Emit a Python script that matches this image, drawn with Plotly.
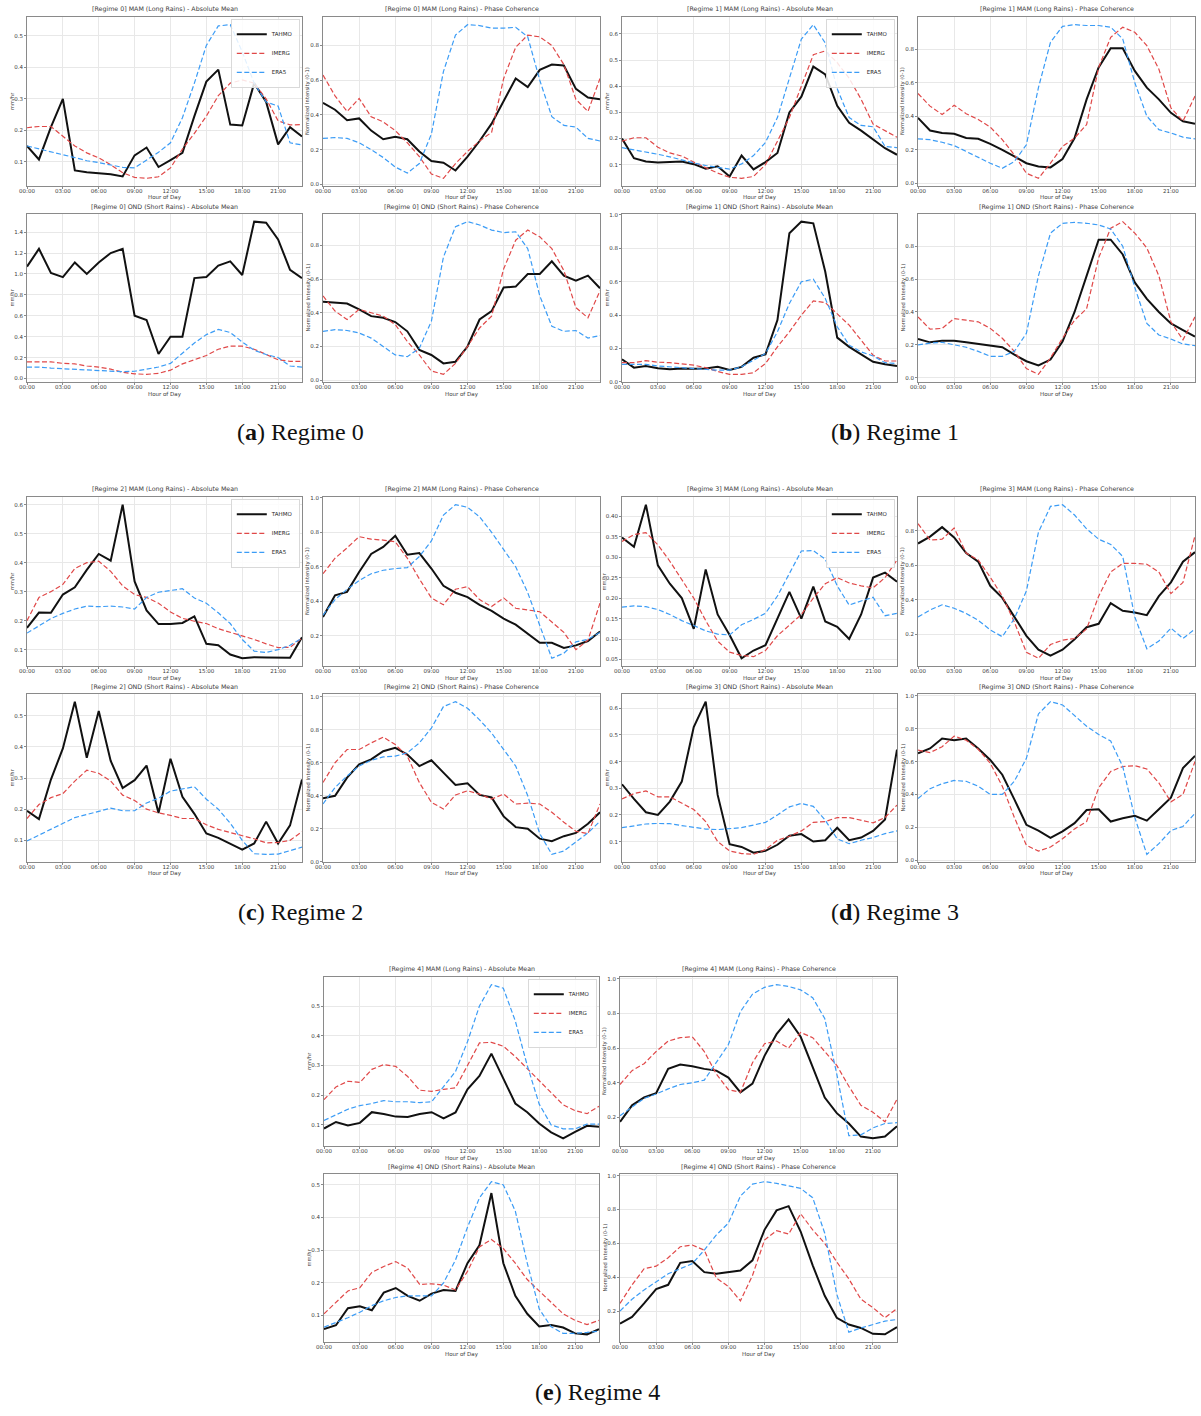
import plotly.graph_objects as go

# ---------------- data ----------------
HOURS = list(range(24))
HOUR_TICKS = [0, 3, 6, 9, 12, 15, 18, 21]
HOUR_LABELS = ["00:00", "03:00", "06:00", "09:00", "12:00", "15:00", "18:00", "21:00"]
SOURCES = ["TAHMO", "IMERG", "ERA5"]
SEASONS = ["MAM (Long Rains)", "OND (Short Rains)"]
KINDS = ["Absolute Mean", "Phase Coherence"]
Y_TITLES = ["mm/hr", "Normalized Intensity (0-1)"]
CAPTION_LETTERS = ["a", "b", "c", "d", "e"]

# Regime 0
R0_MAM_ABS_TAHMO = [0.15, 0.107, 0.21, 0.30, 0.072, 0.066, 0.063, 0.06, 0.053, 0.12, 0.145, 0.083, 0.105, 0.128, 0.245, 0.355, 0.393, 0.218, 0.215, 0.35, 0.29, 0.155, 0.21, 0.18]
R0_MAM_ABS_IMERG = [0.208, 0.212, 0.212, 0.18, 0.15, 0.128, 0.112, 0.09, 0.065, 0.05, 0.047, 0.052, 0.08, 0.14, 0.19, 0.245, 0.31, 0.35, 0.36, 0.35, 0.3, 0.23, 0.217, 0.218]
R0_MAM_ABS_ERA5 = [0.15, 0.14, 0.13, 0.122, 0.113, 0.103, 0.097, 0.09, 0.082, 0.08, 0.105, 0.13, 0.16, 0.24, 0.35, 0.47, 0.532, 0.536, 0.45, 0.35, 0.29, 0.277, 0.16, 0.153]
R0_MAM_PH_TAHMO = [0.47, 0.43, 0.37, 0.38, 0.31, 0.26, 0.275, 0.26, 0.19, 0.135, 0.125, 0.08, 0.16, 0.25, 0.35, 0.48, 0.61, 0.56, 0.66, 0.69, 0.685, 0.55, 0.5, 0.49]
R0_MAM_PH_IMERG = [0.63, 0.51, 0.42, 0.495, 0.39, 0.36, 0.31, 0.24, 0.16, 0.06, 0.035, 0.12, 0.19, 0.25, 0.3, 0.61, 0.79, 0.86, 0.85, 0.8, 0.69, 0.49, 0.42, 0.61]
R0_MAM_PH_ERA5 = [0.265, 0.27, 0.265, 0.24, 0.2, 0.155, 0.1, 0.065, 0.12, 0.29, 0.65, 0.86, 0.92, 0.915, 0.9, 0.9, 0.905, 0.85, 0.6, 0.39, 0.34, 0.33, 0.265, 0.25]
R0_OND_ABS_TAHMO = [1.07, 1.24, 1.01, 0.97, 1.11, 1.0, 1.11, 1.2, 1.24, 0.6, 0.56, 0.235, 0.4, 0.4, 0.96, 0.97, 1.08, 1.12, 0.99, 1.5, 1.49, 1.33, 1.04, 0.96]
R0_OND_ABS_IMERG = [0.16, 0.16, 0.16, 0.145, 0.14, 0.12, 0.11, 0.09, 0.06, 0.045, 0.04, 0.05, 0.08, 0.14, 0.18, 0.22, 0.28, 0.31, 0.31, 0.28, 0.23, 0.18, 0.165, 0.165]
R0_OND_ABS_ERA5 = [0.11, 0.11, 0.1, 0.095, 0.09, 0.085, 0.08, 0.07, 0.065, 0.07, 0.09, 0.11, 0.145, 0.24, 0.34, 0.42, 0.47, 0.44, 0.35, 0.27, 0.23, 0.2, 0.12, 0.11]
R0_OND_PH_TAHMO = [0.465, 0.46, 0.455, 0.42, 0.38, 0.37, 0.345, 0.29, 0.18, 0.15, 0.1, 0.11, 0.2, 0.36, 0.41, 0.55, 0.555, 0.63, 0.63, 0.705, 0.62, 0.59, 0.62, 0.545]
R0_OND_PH_IMERG = [0.5, 0.41, 0.36, 0.42, 0.4, 0.38, 0.33, 0.23, 0.15, 0.055, 0.035, 0.1, 0.2, 0.31, 0.38, 0.66, 0.83, 0.89, 0.85, 0.78, 0.65, 0.43, 0.37, 0.53]
R0_OND_PH_ERA5 = [0.29, 0.3, 0.295, 0.28, 0.25, 0.2, 0.15, 0.14, 0.19, 0.35, 0.73, 0.91, 0.94, 0.92, 0.89, 0.875, 0.88, 0.78, 0.5, 0.32, 0.29, 0.295, 0.25, 0.265]

# Regime 1
R1_MAM_ABS_TAHMO = [0.2, 0.125, 0.112, 0.108, 0.11, 0.112, 0.102, 0.085, 0.094, 0.055, 0.135, 0.082, 0.11, 0.145, 0.3, 0.36, 0.475, 0.445, 0.325, 0.26, 0.23, 0.198, 0.163, 0.138]
R1_MAM_ABS_IMERG = [0.19, 0.203, 0.203, 0.167, 0.145, 0.133, 0.11, 0.09, 0.068, 0.052, 0.048, 0.055, 0.1, 0.19, 0.28, 0.4, 0.52, 0.535, 0.49, 0.43, 0.35, 0.255, 0.23, 0.205]
R1_MAM_ABS_ERA5 = [0.165, 0.157, 0.15, 0.14, 0.13, 0.118, 0.107, 0.097, 0.09, 0.083, 0.103, 0.135, 0.185, 0.28, 0.43, 0.58, 0.635, 0.565, 0.39, 0.28, 0.25, 0.245, 0.17, 0.165]
R1_MAM_PH_TAHMO = [0.39, 0.315, 0.3, 0.295, 0.27, 0.265, 0.235, 0.2, 0.16, 0.12, 0.1, 0.095, 0.145, 0.27, 0.5, 0.69, 0.805, 0.805, 0.67, 0.57, 0.5, 0.42, 0.37, 0.355]
R1_MAM_PH_IMERG = [0.535, 0.46, 0.41, 0.465, 0.415, 0.38, 0.335, 0.26, 0.17, 0.06, 0.03, 0.12, 0.22, 0.27, 0.35, 0.69, 0.87, 0.93, 0.9, 0.82, 0.68, 0.45, 0.37, 0.52]
R1_MAM_PH_ERA5 = [0.265, 0.26, 0.245, 0.225, 0.19, 0.155, 0.12, 0.09, 0.13, 0.23, 0.57, 0.84, 0.935, 0.945, 0.94, 0.94, 0.93, 0.86, 0.6, 0.4, 0.32, 0.3, 0.275, 0.265]
R1_OND_ABS_TAHMO = [0.135, 0.085, 0.095, 0.082, 0.075, 0.08, 0.078, 0.08, 0.09, 0.072, 0.09, 0.145, 0.165, 0.37, 0.89, 0.96, 0.95, 0.66, 0.265, 0.21, 0.165, 0.12, 0.105, 0.095]
R1_OND_ABS_IMERG = [0.115, 0.115, 0.127, 0.118, 0.115, 0.108, 0.1, 0.085, 0.062, 0.045, 0.045, 0.055, 0.11, 0.21, 0.3, 0.4, 0.485, 0.475, 0.41, 0.34, 0.25, 0.16, 0.125, 0.125]
R1_OND_ABS_ERA5 = [0.105, 0.105, 0.105, 0.095, 0.09, 0.085, 0.08, 0.078, 0.07, 0.07, 0.09, 0.13, 0.17, 0.3, 0.47, 0.6, 0.615, 0.5, 0.33, 0.22, 0.18, 0.155, 0.115, 0.11]
R1_OND_PH_TAHMO = [0.235, 0.215, 0.225, 0.225, 0.215, 0.205, 0.195, 0.185, 0.14, 0.1, 0.075, 0.11, 0.22, 0.4, 0.62, 0.84, 0.84, 0.75, 0.58, 0.48, 0.4, 0.33, 0.29, 0.25]
R1_OND_PH_IMERG = [0.37, 0.295, 0.3, 0.36, 0.35, 0.34, 0.3, 0.24, 0.16, 0.055, 0.02, 0.12, 0.24, 0.35, 0.42, 0.73, 0.91, 0.95, 0.88, 0.79, 0.62, 0.34, 0.23, 0.37]
R1_OND_PH_ERA5 = [0.2, 0.21, 0.215, 0.2, 0.185, 0.16, 0.13, 0.13, 0.16, 0.27, 0.62, 0.88, 0.94, 0.945, 0.94, 0.93, 0.905, 0.8, 0.55, 0.33, 0.26, 0.235, 0.205, 0.195]

# Regime 2
R2_MAM_ABS_TAHMO = [0.175, 0.228, 0.227, 0.29, 0.315, 0.375, 0.43, 0.407, 0.6, 0.335, 0.235, 0.188, 0.188, 0.192, 0.215, 0.12, 0.115, 0.083, 0.07, 0.074, 0.073, 0.072, 0.072, 0.143]
R2_MAM_ABS_IMERG = [0.2, 0.28, 0.3, 0.325, 0.38, 0.4, 0.405, 0.37, 0.32, 0.29, 0.28, 0.26, 0.23, 0.208, 0.198, 0.19, 0.172, 0.16, 0.147, 0.135, 0.12, 0.107, 0.108, 0.14]
R2_MAM_ABS_ERA5 = [0.157, 0.183, 0.207, 0.225, 0.24, 0.25, 0.248, 0.25, 0.247, 0.24, 0.28, 0.298, 0.305, 0.31, 0.278, 0.26, 0.227, 0.19, 0.135, 0.095, 0.09, 0.1, 0.115, 0.14]
R2_MAM_PH_TAHMO = [0.31, 0.435, 0.455, 0.57, 0.675, 0.715, 0.78, 0.67, 0.68, 0.59, 0.49, 0.45, 0.425, 0.38, 0.345, 0.3, 0.265, 0.215, 0.16, 0.16, 0.13, 0.145, 0.17, 0.225]
R2_MAM_PH_IMERG = [0.56, 0.65, 0.71, 0.775, 0.76, 0.755, 0.745, 0.65, 0.53, 0.42, 0.38, 0.47, 0.485, 0.41, 0.37, 0.42, 0.36, 0.35, 0.34, 0.28, 0.22, 0.12, 0.175, 0.39]
R2_MAM_PH_ERA5 = [0.32, 0.41, 0.47, 0.52, 0.56, 0.58, 0.59, 0.595, 0.66, 0.75, 0.9, 0.96, 0.945, 0.89, 0.8, 0.7, 0.6, 0.45, 0.26, 0.07, 0.1, 0.165, 0.18, 0.22]
R2_OND_ABS_TAHMO = [0.195, 0.168, 0.295, 0.395, 0.545, 0.365, 0.515, 0.355, 0.268, 0.293, 0.34, 0.188, 0.362, 0.24, 0.185, 0.122, 0.108, 0.09, 0.07, 0.09, 0.16, 0.09, 0.148, 0.295]
R2_OND_ABS_IMERG = [0.17, 0.215, 0.237, 0.25, 0.29, 0.325, 0.315, 0.29, 0.245, 0.228, 0.2, 0.188, 0.18, 0.17, 0.17, 0.15, 0.135, 0.125, 0.117, 0.105, 0.092, 0.093, 0.1, 0.128]
R2_OND_ABS_ERA5 = [0.098, 0.117, 0.137, 0.155, 0.173, 0.183, 0.193, 0.203, 0.195, 0.195, 0.22, 0.235, 0.258, 0.265, 0.272, 0.232, 0.2, 0.155, 0.1, 0.057, 0.055, 0.056, 0.068, 0.078]
R2_OND_PH_TAHMO = [0.385, 0.4, 0.51, 0.59, 0.62, 0.67, 0.69, 0.65, 0.58, 0.615, 0.54, 0.465, 0.475, 0.405, 0.39, 0.275, 0.21, 0.2, 0.14, 0.125, 0.155, 0.175, 0.23, 0.3]
R2_OND_PH_IMERG = [0.48, 0.6, 0.68, 0.68, 0.72, 0.755, 0.71, 0.64, 0.48, 0.36, 0.32, 0.405, 0.43, 0.41, 0.38, 0.41, 0.35, 0.355, 0.35, 0.3, 0.24, 0.185, 0.17, 0.35]
R2_OND_PH_ERA5 = [0.35, 0.45, 0.52, 0.58, 0.615, 0.635, 0.64, 0.66, 0.72, 0.81, 0.94, 0.97, 0.93, 0.86, 0.78, 0.68, 0.58, 0.4, 0.17, 0.045, 0.065, 0.12, 0.175, 0.245]

# Regime 3
R3_MAM_ABS_TAHMO = [0.348, 0.325, 0.428, 0.28, 0.235, 0.2, 0.125, 0.27, 0.16, 0.11, 0.053, 0.072, 0.085, 0.15, 0.215, 0.15, 0.228, 0.143, 0.13, 0.1, 0.16, 0.25, 0.262, 0.24]
R3_MAM_ABS_IMERG = [0.338, 0.355, 0.36, 0.33, 0.29, 0.245, 0.2, 0.145, 0.095, 0.068, 0.06, 0.057, 0.072, 0.108, 0.135, 0.16, 0.2, 0.235, 0.25, 0.237, 0.23, 0.225, 0.25, 0.293]
R3_MAM_ABS_ERA5 = [0.178, 0.181, 0.179, 0.172, 0.16, 0.145, 0.133, 0.12, 0.112, 0.11, 0.135, 0.148, 0.163, 0.205, 0.26, 0.315, 0.316, 0.295, 0.23, 0.183, 0.193, 0.202, 0.157, 0.163]
R3_MAM_PH_TAHMO = [0.725, 0.765, 0.82, 0.76, 0.67, 0.62, 0.48, 0.41, 0.3, 0.19, 0.11, 0.075, 0.11, 0.17, 0.24, 0.26, 0.38, 0.335, 0.325, 0.31, 0.42, 0.5, 0.62, 0.675]
R3_MAM_PH_IMERG = [0.84, 0.745, 0.75, 0.815, 0.67, 0.63, 0.53, 0.42, 0.27, 0.095, 0.06, 0.14, 0.165, 0.175, 0.23, 0.42, 0.56, 0.61, 0.61, 0.605, 0.56, 0.435, 0.5, 0.77]
R3_MAM_PH_ERA5 = [0.3, 0.34, 0.37, 0.35, 0.32, 0.28, 0.225, 0.185, 0.29, 0.45, 0.79, 0.94, 0.95, 0.89, 0.81, 0.75, 0.72, 0.65, 0.3, 0.115, 0.16, 0.235, 0.175, 0.23]
R3_OND_ABS_TAHMO = [0.315, 0.26, 0.21, 0.2, 0.25, 0.325, 0.53, 0.625, 0.275, 0.09, 0.08, 0.058, 0.065, 0.088, 0.122, 0.128, 0.1, 0.105, 0.152, 0.105, 0.115, 0.14, 0.183, 0.445]
R3_OND_ABS_IMERG = [0.26, 0.28, 0.29, 0.268, 0.268, 0.245, 0.22, 0.175, 0.1, 0.065, 0.055, 0.052, 0.07, 0.105, 0.12, 0.14, 0.172, 0.175, 0.19, 0.19, 0.18, 0.17, 0.19, 0.237]
R3_OND_ABS_ERA5 = [0.152, 0.16, 0.166, 0.168, 0.167, 0.16, 0.153, 0.147, 0.145, 0.148, 0.152, 0.162, 0.172, 0.2, 0.23, 0.243, 0.232, 0.18, 0.11, 0.092, 0.105, 0.115, 0.13, 0.14]
R3_OND_PH_TAHMO = [0.65, 0.68, 0.74, 0.73, 0.74, 0.68, 0.61, 0.52, 0.37, 0.215, 0.18, 0.135, 0.175, 0.225, 0.305, 0.31, 0.235, 0.255, 0.27, 0.24, 0.31, 0.38, 0.56, 0.635]
R3_OND_PH_IMERG = [0.67, 0.655, 0.69, 0.755, 0.73, 0.675, 0.59, 0.45, 0.26, 0.09, 0.055, 0.08, 0.13, 0.19, 0.235, 0.44, 0.54, 0.57, 0.575, 0.555, 0.47, 0.355, 0.4, 0.6]
R3_OND_PH_ERA5 = [0.375, 0.435, 0.465, 0.485, 0.48, 0.45, 0.4, 0.4, 0.48, 0.62, 0.89, 0.965, 0.945, 0.88, 0.815, 0.765, 0.725, 0.57, 0.26, 0.035, 0.1, 0.18, 0.205, 0.285]

# Regime 4
R4_MAM_ABS_TAHMO = [0.088, 0.11, 0.098, 0.107, 0.143, 0.137, 0.128, 0.127, 0.137, 0.143, 0.122, 0.142, 0.22, 0.265, 0.34, 0.255, 0.172, 0.143, 0.105, 0.075, 0.055, 0.077, 0.097, 0.094]
R4_MAM_ABS_IMERG = [0.185, 0.228, 0.247, 0.243, 0.287, 0.303, 0.297, 0.263, 0.217, 0.213, 0.22, 0.225, 0.3, 0.376, 0.378, 0.365, 0.33, 0.29, 0.25, 0.21, 0.168, 0.148, 0.138, 0.163]
R4_MAM_ABS_ERA5 = [0.115, 0.133, 0.153, 0.165, 0.172, 0.182, 0.178, 0.178, 0.175, 0.178, 0.228, 0.28, 0.38, 0.5, 0.572, 0.56, 0.45, 0.3, 0.17, 0.1, 0.087, 0.087, 0.103, 0.103]
R4_MAM_PH_TAHMO = [0.175, 0.27, 0.315, 0.34, 0.48, 0.505, 0.495, 0.48, 0.47, 0.43, 0.345, 0.395, 0.555, 0.68, 0.765, 0.665, 0.49, 0.315, 0.225, 0.165, 0.09, 0.08, 0.09, 0.15]
R4_MAM_PH_IMERG = [0.39, 0.47, 0.51, 0.58, 0.64, 0.66, 0.665, 0.58, 0.45, 0.36, 0.345, 0.515, 0.625, 0.64, 0.6, 0.69, 0.66, 0.58, 0.5, 0.38, 0.27, 0.23, 0.175, 0.305]
R4_MAM_PH_ERA5 = [0.21, 0.26, 0.31, 0.335, 0.365, 0.39, 0.4, 0.415, 0.52, 0.62, 0.81, 0.91, 0.95, 0.965, 0.955, 0.935, 0.89, 0.77, 0.45, 0.095, 0.1, 0.14, 0.165, 0.17]
R4_OND_ABS_TAHMO = [0.058, 0.07, 0.122, 0.128, 0.116, 0.17, 0.184, 0.16, 0.145, 0.167, 0.178, 0.175, 0.26, 0.315, 0.475, 0.26, 0.16, 0.105, 0.066, 0.071, 0.063, 0.045, 0.042, 0.058]
R4_OND_ABS_IMERG = [0.105, 0.14, 0.175, 0.185, 0.232, 0.25, 0.265, 0.245, 0.195, 0.197, 0.193, 0.178, 0.235, 0.31, 0.333, 0.305, 0.26, 0.21, 0.175, 0.14, 0.105, 0.085, 0.072, 0.085]
R4_OND_ABS_ERA5 = [0.064, 0.078, 0.093, 0.11, 0.13, 0.145, 0.155, 0.16, 0.16, 0.16, 0.2, 0.27, 0.37, 0.46, 0.51, 0.5, 0.42, 0.26, 0.12, 0.065, 0.045, 0.045, 0.048, 0.052]
R4_OND_PH_TAHMO = [0.125, 0.165, 0.245, 0.33, 0.355, 0.485, 0.495, 0.43, 0.42, 0.43, 0.44, 0.5, 0.68, 0.795, 0.82, 0.67, 0.47, 0.29, 0.16, 0.12, 0.1, 0.065, 0.062, 0.105]
R4_OND_PH_IMERG = [0.245, 0.355, 0.45, 0.465, 0.515, 0.58, 0.59, 0.56, 0.395, 0.345, 0.26, 0.41, 0.62, 0.675, 0.655, 0.775, 0.68, 0.6, 0.49, 0.39, 0.27, 0.22, 0.16, 0.215]
R4_OND_PH_ERA5 = [0.2, 0.27, 0.325, 0.375, 0.42, 0.45, 0.48, 0.56, 0.65, 0.72, 0.88, 0.95, 0.965, 0.955, 0.94, 0.925, 0.87, 0.66, 0.3, 0.075, 0.1, 0.12, 0.14, 0.15]

# panels[regime][season][kind] -> (tahmo, imerg, era5)
PANELS = [
    [[(R0_MAM_ABS_TAHMO, R0_MAM_ABS_IMERG, R0_MAM_ABS_ERA5), (R0_MAM_PH_TAHMO, R0_MAM_PH_IMERG, R0_MAM_PH_ERA5)],
     [(R0_OND_ABS_TAHMO, R0_OND_ABS_IMERG, R0_OND_ABS_ERA5), (R0_OND_PH_TAHMO, R0_OND_PH_IMERG, R0_OND_PH_ERA5)]],
    [[(R1_MAM_ABS_TAHMO, R1_MAM_ABS_IMERG, R1_MAM_ABS_ERA5), (R1_MAM_PH_TAHMO, R1_MAM_PH_IMERG, R1_MAM_PH_ERA5)],
     [(R1_OND_ABS_TAHMO, R1_OND_ABS_IMERG, R1_OND_ABS_ERA5), (R1_OND_PH_TAHMO, R1_OND_PH_IMERG, R1_OND_PH_ERA5)]],
    [[(R2_MAM_ABS_TAHMO, R2_MAM_ABS_IMERG, R2_MAM_ABS_ERA5), (R2_MAM_PH_TAHMO, R2_MAM_PH_IMERG, R2_MAM_PH_ERA5)],
     [(R2_OND_ABS_TAHMO, R2_OND_ABS_IMERG, R2_OND_ABS_ERA5), (R2_OND_PH_TAHMO, R2_OND_PH_IMERG, R2_OND_PH_ERA5)]],
    [[(R3_MAM_ABS_TAHMO, R3_MAM_ABS_IMERG, R3_MAM_ABS_ERA5), (R3_MAM_PH_TAHMO, R3_MAM_PH_IMERG, R3_MAM_PH_ERA5)],
     [(R3_OND_ABS_TAHMO, R3_OND_ABS_IMERG, R3_OND_ABS_ERA5), (R3_OND_PH_TAHMO, R3_OND_PH_IMERG, R3_OND_PH_ERA5)]],
    [[(R4_MAM_ABS_TAHMO, R4_MAM_ABS_IMERG, R4_MAM_ABS_ERA5), (R4_MAM_PH_TAHMO, R4_MAM_PH_IMERG, R4_MAM_PH_ERA5)],
     [(R4_OND_ABS_TAHMO, R4_OND_ABS_IMERG, R4_OND_ABS_ERA5), (R4_OND_PH_TAHMO, R4_OND_PH_IMERG, R4_OND_PH_ERA5)]],
]

# ---------------- layout / style ----------------
W, H = 1201, 1416
BLOCK_OFFSETS = [(0, 0), (595, 0), (0, 480), (595, 480), (297, 960)]
COL_X = [(27, 302), (323, 600)]
ROW_Y = [(17, 186), (214, 382)]
CAPTION_Y = 432

STYLE = {
    "TAHMO": dict(color="#111111", width=2.0, dash="solid"),
    "IMERG": dict(color="#e04848", width=1.2, dash="5px,2.5px"),
    "ERA5": dict(color="#3b9cf6", width=1.2, dash="5px,2.5px"),
}
FONT = "DejaVu Sans"
TXT = "#3a3a3a"
GRID = "#e8e8e8"
SPINE = "#8a8a8a"


def dtick_for(r, s, k):
    if k == 1:
        return 0.2, ".1f"
    if (r, s) in [(0, 1), (1, 1)]:
        return 0.2, ".1f"
    if (r, s) == (3, 0):
        return 0.05, ".2f"
    return 0.1, ".1f"


def ann(text, x, y, size, **kw):
    d = dict(text=text, x=x, y=y, xref="paper", yref="paper", showarrow=False,
             font=dict(size=size, family=FONT, color=TXT))
    d.update(kw)
    return d


fig = go.Figure()
layout = dict(
    width=W, height=H, margin=dict(l=0, r=0, t=0, b=0),
    paper_bgcolor="white", plot_bgcolor="white",
    template="none", font=dict(family=FONT, size=6, color=TXT),
    annotations=[],
)

n = 0
for r in range(5):
    ox, oy = BLOCK_OFFSETS[r]
    legend_name = "legend" if r == 0 else f"legend{r + 1}"
    for s in range(2):
        for k in range(2):
            n += 1
            xa = "x" if n == 1 else f"x{n}"
            ya = "y" if n == 1 else f"y{n}"
            xl = "xaxis" if n == 1 else f"xaxis{n}"
            yl = "yaxis" if n == 1 else f"yaxis{n}"
            x0, x1 = ox + COL_X[k][0], ox + COL_X[k][1]
            y0, y1 = oy + ROW_Y[s][0], oy + ROW_Y[s][1]
            series = PANELS[r][s][k]
            allv = [v for ser in series for v in ser]
            lo, hi = min(allv), max(allv)
            pad = 0.05 * (hi - lo)
            dt, fmt = dtick_for(r, s, k)
            for name, vals in zip(SOURCES, series):
                st = STYLE[name]
                fig.add_trace(go.Scatter(
                    x=HOURS, y=vals, mode="lines", name=name,
                    xaxis=xa, yaxis=ya,
                    line=dict(color=st["color"], width=st["width"], dash=st["dash"]),
                    showlegend=(s == 0 and k == 0), legend=legend_name,
                ))
            common = dict(
                showgrid=True, gridcolor=GRID, gridwidth=0.6, zeroline=False,
                showline=True, mirror=True, linecolor=SPINE, linewidth=1,
                ticks="outside", ticklen=2, tickcolor=SPINE, tickwidth=0.6,
                tickfont=dict(size=5.5, family=FONT, color=TXT),
                automargin=False,
            )
            layout[xl] = dict(
                domain=[x0 / W, x1 / W], anchor=ya, range=[0, 23],
                tickmode="array", tickvals=HOUR_TICKS, ticktext=HOUR_LABELS,
                ticklabelstandoff=-3, **common,
            )
            layout[yl] = dict(
                domain=[1 - y1 / H, 1 - y0 / H], anchor=xa, range=[lo - pad, hi + pad],
                tick0=0, dtick=dt, tickformat=fmt, **common,
            )
            # panel title
            layout["annotations"].append(ann(
                f"[Regime {r}] {SEASONS[s]} - {KINDS[k]}",
                (x0 + x1) / 2 / W, 1 - (y0 - 1.5) / H, 6.3,
                xanchor="center", yanchor="bottom"))
            # x-axis title
            layout["annotations"].append(ann(
                "Hour of Day", (x0 + x1) / 2 / W, 1 - (y1 + 12) / H, 5.5,
                xanchor="center", yanchor="middle"))
            # y-axis title
            yoff = 19 if fmt == ".2f" else 15.5
            layout["annotations"].append(ann(
                Y_TITLES[k], (x0 - yoff) / W, 1 - (y0 + y1) / 2 / H, 5.2,
                xanchor="center", yanchor="middle", textangle=-90))
            if s == 0 and k == 0:
                layout[legend_name] = dict(
                    x=(x1 - 2) / W, y=1 - (y0 + 2) / H, xanchor="right", yanchor="top",
                    xref="paper", yref="paper",
                    bgcolor="rgba(255,255,255,0.85)", bordercolor="#d0d0d0", borderwidth=0.8,
                    font=dict(size=5.5, family=FONT, color="#222"),
                    itemwidth=30, tracegroupgap=0,
                )
    layout["annotations"].append(dict(
        text=f"(<b>{CAPTION_LETTERS[r]}</b>) Regime {r}",
        x=(ox + 300) / W, y=1 - (oy + CAPTION_Y) / H, xref="paper", yref="paper",
        xanchor="center", yanchor="middle", showarrow=False,
        font=dict(size=24, family="Liberation Serif", color="#111"),
    ))

fig.update_layout(**layout)
fig.write_html("out.html")
